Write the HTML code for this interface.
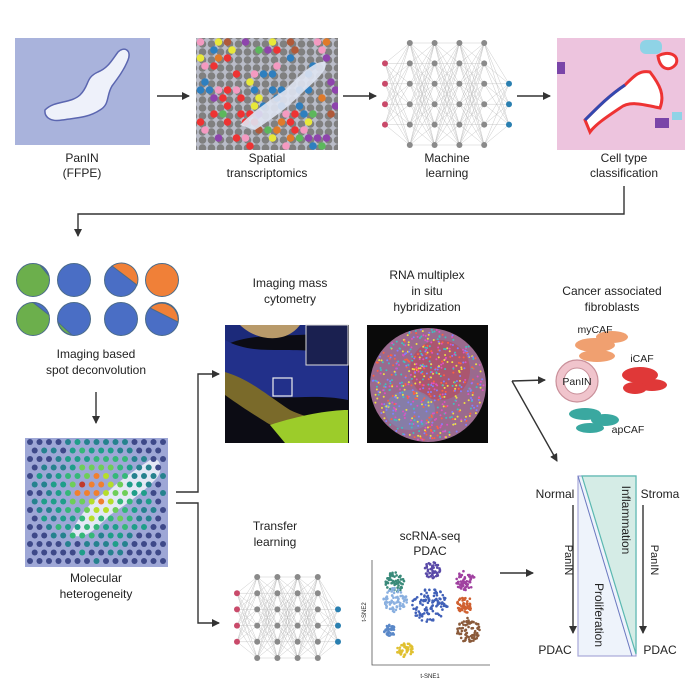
<!DOCTYPE html>
<html><head><meta charset="utf-8"><style>
html,body{margin:0;padding:0;background:#fff;}
svg{display:block;font-family:"Liberation Sans",sans-serif;}
text{font-size:12px;fill:#222;text-anchor:middle;}
</style></head><body>
<svg id="s" width="700" height="700" viewBox="0 0 700 700" xmlns="http://www.w3.org/2000/svg">
<defs>
<marker id="ar" markerWidth="8" markerHeight="8" refX="7" refY="4" orient="auto" markerUnits="userSpaceOnUse"><path d="M0,0 L8,4 L0,8 z" fill="#333"/></marker>
<pattern id="hexg" width="9" height="8" patternUnits="userSpaceOnUse"><rect width="9" height="8" fill="#b9bcc8"/><circle cx="4.5" cy="4" r="3.8" fill="#808080"/></pattern>
<clipPath id="c2"><rect x="196" y="38" width="142" height="112"/></clipPath>
<clipPath id="c3"><rect x="25" y="438" width="143" height="129"/></clipPath>
</defs>
<rect x="15" y="38" width="135" height="107" fill="#a9b3dc"/>
<path d="M45,110 C55,100 70,104 80,95 C90,85 85,78 98,72 C108,68 112,60 118,52 C124,46 132,50 128,60 C124,70 118,78 112,86 C106,96 110,104 100,110 C88,118 75,118 62,120 C52,122 44,118 45,110 Z" fill="#eef1fa" stroke="#5b66b0" stroke-width="1.5"/>
<rect x="196" y="38" width="142" height="112" fill="url(#hexg)"/>
<g id="sp" clip-path="url(#c2)"></g>
<path d="M240,125 C255,110 270,100 285,90 C300,75 315,60 325,62 C330,70 310,85 300,95 C285,110 270,120 255,130 Z" fill="#dfe4f2" opacity=".9"/>
<g id="nn1"></g>
<rect x="557" y="38" width="128" height="112" fill="#edc4de"/>
<path d="M585,120 C600,105 610,95 625,85 C635,75 640,70 650,72 C660,85 665,95 660,108 C645,105 630,100 620,108 C605,118 595,125 590,132 Z" fill="#fff" stroke="#e33" stroke-width="3"/>
<path d="M585,120 C600,105 610,95 625,85" fill="none" stroke="#3348b0" stroke-width="3"/>
<path d="M658,56 C668,50 680,55 676,64 C670,72 660,70 658,56Z" fill="#fff" stroke="#e33" stroke-width="3"/>
<rect x="640" y="40" width="22" height="14" rx="6" fill="#8fd3e6"/>
<rect x="557" y="62" width="8" height="12" fill="#7a45a8"/>
<rect x="655" y="118" width="14" height="10" fill="#7a45a8"/>
<rect x="672" y="112" width="10" height="8" fill="#8fd3e6"/>
<text x="82" y="162">PanIN</text><text x="82" y="177">(FFPE)</text>
<text x="267" y="162">Spatial</text><text x="267" y="177">transcriptomics</text>
<text x="447" y="162">Machine</text><text x="447" y="177">learning</text>
<text x="624" y="162">Cell type</text><text x="624" y="177">classification</text>
<g stroke="#333" stroke-width="1.4" fill="none">
<line x1="157" y1="96" x2="189" y2="96" marker-end="url(#ar)"/>
<line x1="343" y1="96" x2="376" y2="96" marker-end="url(#ar)"/>
<line x1="517" y1="96" x2="550" y2="96" marker-end="url(#ar)"/>
<polyline points="624,186 624,214 78,214 78,236" marker-end="url(#ar)"/>
<line x1="96" y1="392" x2="96" y2="423" marker-end="url(#ar)"/>
<polyline points="176,492 198,492 198,374 219,374" marker-end="url(#ar)"/>
<polyline points="176,503 198,503 198,623 219,623" marker-end="url(#ar)"/>
<line x1="512" y1="381" x2="545" y2="380" marker-end="url(#ar)"/>
<line x1="512" y1="381" x2="557" y2="461" marker-end="url(#ar)"/>
<line x1="500" y1="573" x2="533" y2="573" marker-end="url(#ar)"/>
<line x1="573" y1="505" x2="573" y2="633" marker-end="url(#ar)"/>
<line x1="643" y1="505" x2="643" y2="633" marker-end="url(#ar)"/>
</g>
<g stroke="#4b6b8a" stroke-width="1">
<circle cx="33" cy="280" r="16.5" fill="#6caf4c"/><path d="M40,265 A16.5,16.5 0 0 1 49,276 Z" fill="#4a6ec5"/>
<circle cx="74" cy="280" r="16.5" fill="#4a6ec5"/>
<circle cx="121" cy="280" r="16.5" fill="#4a6ec5"/><path d="M112,266 L137,285 A16.5,16.5 0 0 0 112,266Z" fill="#f08038"/>
<circle cx="162" cy="280" r="16.5" fill="#f08038"/>
<circle cx="33" cy="319" r="16.5" fill="#6caf4c"/><path d="M33,302.5 A16.5,16.5 0 0 1 49,315 Z" fill="#4a6ec5"/>
<circle cx="74" cy="319" r="16.5" fill="#4a6ec5"/><path d="M58,322 A16.5,16.5 0 0 0 72,335 Z" fill="#6caf4c"/>
<circle cx="121" cy="319" r="16.5" fill="#4a6ec5"/>
<circle cx="162" cy="319" r="16.5" fill="#4a6ec5"/><path d="M150,308 A16.5,16.5 0 0 1 178,322 Z" fill="#f08038"/>
</g>
<text x="96" y="358">Imaging based</text><text x="96" y="374">spot deconvolution</text>
<rect x="25" y="438" width="143" height="129" fill="#9ea7d6"/>
<path d="M70,535 C80,515 90,500 110,490 C120,480 135,470 150,460 C160,455 165,470 155,480 C140,495 125,505 110,515 C95,530 85,540 70,535Z" fill="#e4e8f5"/>
<g id="hm" clip-path="url(#c3)"></g>
<text x="96" y="582">Molecular</text><text x="96" y="598">heterogeneity</text>
<text x="290" y="287">Imaging mass</text><text x="290" y="303">cytometry</text>
<rect x="225" y="325" width="124" height="118" fill="#0c0c14"/>
<path d="M225,345 C260,330 290,340 348,330 V325 H225Z" fill="#1c2a7a"/>
<path d="M225,340 C260,360 300,340 348,360 V400 C300,390 260,410 225,380Z" fill="#22308a"/>
<path d="M225,372 C250,380 260,390 290,410 C310,420 330,420 348,425 V443 H300 C280,430 260,420 225,395Z" fill="#7a6a2a"/>
<path d="M270,425 C300,415 330,410 348,410 V443 H285Z" fill="#9ccc2a"/>
<path d="M240,325 C255,340 285,345 300,325Z" fill="#b89a6a"/>
<rect x="306" y="325" width="42" height="40" fill="#1a2050" stroke="#ddd" stroke-width="1"/>
<rect x="273" y="378" width="19" height="18" fill="none" stroke="#eee" stroke-width="1.2"/>
<text x="427" y="279">RNA multiplex</text><text x="427" y="295">in situ</text><text x="427" y="311">hybridization</text>
<rect x="367" y="325" width="121" height="118" fill="#0a0a0a"/>
<ellipse cx="428" cy="385" rx="58" ry="57" fill="#9a6a8e"/>
<ellipse cx="440" cy="370" rx="30" ry="30" fill="#b84a5a" opacity=".6"/>
<ellipse cx="410" cy="410" rx="25" ry="20" fill="#7a8ab8" opacity=".6"/>
<g id="rna"></g>
<text x="612" y="295">Cancer associated</text><text x="612" y="311">fibroblasts</text>
<g fill="#f0a070"><ellipse cx="595" cy="345" rx="20" ry="7"/><ellipse cx="612" cy="337" rx="16" ry="6"/><ellipse cx="597" cy="356" rx="18" ry="6"/></g>
<g fill="#e03838"><ellipse cx="640" cy="375" rx="18" ry="8"/><ellipse cx="652" cy="385" rx="15" ry="6"/><ellipse cx="635" cy="388" rx="12" ry="6"/></g>
<g fill="#3aa8a0"><ellipse cx="585" cy="414" rx="16" ry="6"/><ellipse cx="605" cy="420" rx="14" ry="6"/><ellipse cx="590" cy="428" rx="14" ry="5"/></g>
<circle cx="577" cy="381" r="21" fill="#f0c4cc" stroke="#c9909a" stroke-width="1.2"/>
<circle cx="577" cy="381" r="13" fill="#fff" stroke="#c9909a"/>
<text x="577" y="385" style="font-size:10.5px">PanIN</text>
<text x="595" y="333" style="font-size:10.5px">myCAF</text>
<text x="642" y="362" style="font-size:10.5px">iCAF</text>
<text x="628" y="433" style="font-size:10.5px">apCAF</text>
<rect x="578" y="476" width="58" height="180" fill="#eef3fb" stroke="#a8a8d8" stroke-width="1.2"/>
<polygon points="582,476 636,476 636,654" fill="#d5ece6" stroke="#5ab8b0" stroke-width="1.2"/>
<line x1="578" y1="476" x2="632" y2="656" stroke="#6a78c0" stroke-width="1"/>
<text x="555" y="498">Normal</text><text x="660" y="498">Stroma</text>
<text x="555" y="654">PDAC</text><text x="660" y="654">PDAC</text>
<text transform="translate(622,520) rotate(90)">Inflammation</text>
<text transform="translate(595,615) rotate(90)">Proliferation</text>
<text transform="translate(565,560) rotate(90)" style="font-size:11px">PanIN</text>
<text transform="translate(651,560) rotate(90)" style="font-size:11px">PanIN</text>
<text x="275" y="530">Transfer</text><text x="275" y="546">learning</text>
<g id="nn2"></g>
<text x="430" y="540">scRNA-seq</text><text x="430" y="555">PDAC</text>
<polyline points="372,560 372,665 490,665" fill="none" stroke="#555" stroke-width=".8"/>
<text x="430" y="678" style="font-size:6px">t-SNE1</text>
<text transform="translate(366,612) rotate(-90)" style="font-size:6px">t-SNE2</text>
<g id="ts"></g>
</svg>
<script>
var NS="http://www.w3.org/2000/svg";
function el(p,t,a){var e=document.createElementNS(NS,t);for(var k in a)e.setAttribute(k,a[k]);p.appendChild(e);return e;}
var seed=3;function rnd(){seed=(seed*9301+49297)%233280;return seed/233280;}
var sp=document.getElementById('sp');var cols=['#e33','#f49ac1','#2e7fbf','#8e44ad','#5cb85c','#e8e83a','#e07a2a','#b05a3a'];
for(var y=42;y<150;y+=8){for(var x=200.5+((y-42)/8%2)*4.5;x<338;x+=9){if(rnd()<0.42){var c=(x<260&&y>90)?(rnd()<.6?'#e33':cols[Math.floor(rnd()*8)]):(x>250&&x<320&&y<110&&y>55)?(rnd()<.7?'#2e7fbf':'#f49ac1'):cols[Math.floor(rnd()*8)];el(sp,'circle',{cx:x,cy:y,r:3.8,fill:c});}}}
function nn(g,x0,x1,y0,y1){g=document.getElementById(g);var L=[[],[],[],[],[],[]];var n=[4,6,6,6,6,3];var dx=(x1-x0)/5;
for(var i=0;i<6;i++){var m=n[i];for(var j=0;j<m;j++){var yy=(m==6)?y0+j*(y1-y0)/5:(m==4?y0+(j+1)*(y1-y0)/5:y0+(j+2)*(y1-y0)/5);L[i].push([x0+i*dx,yy]);}}
for(var i=0;i<5;i++)L[i].forEach(function(a){L[i+1].forEach(function(b){el(g,'line',{x1:a[0],y1:a[1],x2:b[0],y2:b[1],stroke:'#bbb','stroke-width':.4});});});
for(var i=0;i<6;i++)L[i].forEach(function(a){el(g,'circle',{cx:a[0],cy:a[1],r:3,fill:i==0?'#c94a6a':i==5?'#2a7fb0':'#8a8a8a'});});}
nn('nn1',385,509,43,145);nn('nn2',237,338,577,658);
var hm=document.getElementById('hm');var hc=['#fde725','#b5de2b','#6ece58','#35b779','#1f9e89','#26828e','#3e4989','#3e4989','#3e4989'];
var row=0;for(var y=442;y<566;y+=8.5,row++){for(var x=30+(row%2)*4.7;x<166;x+=9.5){var d=Math.hypot(x-95,y-495);var v=Math.max(0,Math.min(8,Math.floor(d/11+rnd()*2-0.5)));var c=hc[v];if(d<20&&rnd()<.5)c=rnd()<.5?'#c0392b':'#f08030';el(hm,'circle',{cx:x,cy:y,r:3,fill:c});}}
var ts=document.getElementById('ts');var cl=[[395,582,10,'#3a8a7a'],[432,570,8,'#5a4aa8'],[465,580,10,'#a040a0'],[395,600,12,'#8ab0e0'],[430,605,18,'#4060b8'],[465,605,8,'#d06030'],[468,630,12,'#8a5a3a'],[405,650,8,'#e0c030'],[390,630,6,'#5a88c8']];
cl.forEach(function(c){for(var k=0;k<c[2]*6;k++){var a=rnd()*6.28,r=Math.sqrt(rnd())*c[2];el(ts,'circle',{cx:c[0]+Math.cos(a)*r,cy:c[1]+Math.sin(a)*r,r:1.3,fill:c[3]});}});
var rn=document.getElementById('rna');
for(var k=0;k<600;k++){var a=rnd()*6.28,r=Math.sqrt(rnd())*56;el(rn,'circle',{cx:428+Math.cos(a)*r,cy:385+Math.sin(a)*r,r:1,fill:['#e050c0','#40c0c0','#f0e040','#ff6040','#8080ff'][k%5]});}
</script>
</body></html>
